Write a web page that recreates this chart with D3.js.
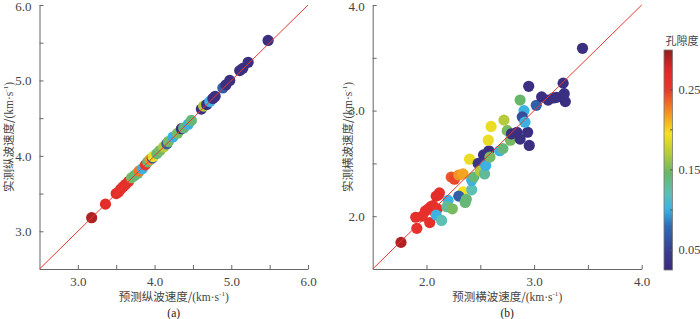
<!DOCTYPE html>
<html><head><meta charset="utf-8">
<script src="https://cdn.jsdelivr.net/npm/d3@7"></script>
<style>
html,body{margin:0;padding:0;background:#fff;}
svg{display:block;font-family:"Liberation Serif","Times New Roman","Noto Sans CJK SC",serif;}
</style></head>
<body><svg id="chart" width="700" height="319"></svg>
<script>
// ---- data ----
// panel (a): predicted Vp, measured Vp, porosity
const vpPredicted = [3.18,3.36,3.50,3.53,3.56,3.59,3.62,3.66,3.70,3.74,3.78,3.80,3.84,3.88,3.91,3.94,3.97,3.98,4.03,4.07,4.12,4.16,4.18,4.24,4.30,4.35,4.38,4.44,4.48,4.61,4.64,4.68,4.72,4.76,4.79,4.89,4.93,4.98,5.11,5.15,5.22,5.48];
const vpMeasured  = [3.18,3.36,3.50,3.52,3.56,3.59,3.62,3.66,3.71,3.74,3.77,3.80,3.83,3.88,3.92,3.95,3.97,3.99,4.03,4.07,4.12,4.16,4.19,4.25,4.30,4.36,4.37,4.42,4.47,4.62,4.66,4.68,4.72,4.76,4.79,4.90,4.94,5.00,5.13,5.16,5.24,5.53];
const vpPorosity  = [0.29,0.265,0.265,0.26,0.26,0.26,0.26,0.26,0.15,0.14,0.14,0.23,0.10,0.25,0.14,0.22,0.07,0.19,0.14,0.15,0.17,0.07,0.15,0.10,0.15,0.03,0.14,0.10,0.14,0.03,0.17,0.03,0.10,0.03,0.03,0.07,0.03,0.03,0.03,0.03,0.03,0.03];
// panel (b): predicted Vs, measured Vs, porosity
const vsPredicted = [1.763,1.91,1.90,1.96,2.03,1.99,2.02,2.04,2.06,2.10,2.08,2.11,2.12,2.09,2.09,2.14,2.20,2.19,2.24,2.23,2.26,2.30,2.34,2.34,2.30,2.36,2.37,2.42,2.42,2.44,2.40,2.48,2.50,2.54,2.55,2.53,2.58,2.59,2.574,2.60,2.68,2.71,2.72,2.75,2.78,2.79,2.84,2.87,2.94,2.955,2.87,2.906,2.89,2.915,2.95,3.02,3.07,3.13,3.18,3.21,3.27,3.28,3.29,3.45];
const vsMeasured  = [1.752,1.885,1.99,2.00,1.94,2.05,2.07,2.09,2.10,2.07,2.04,2.20,2.22,2.19,2.01,1.96,2.15,2.09,2.07,2.37,2.35,2.39,2.40,2.23,2.19,2.13,2.16,2.25,2.34,2.37,2.54,2.50,2.43,2.40,2.48,2.58,2.62,2.56,2.72,2.85,2.62,2.64,2.91,2.81,2.72,2.78,2.795,2.73,2.795,2.67,3.10,3.00,2.94,2.89,3.23,3.05,3.13,3.10,3.12,3.125,3.26,3.16,3.085,3.59];
const vsPorosity  = [0.29,0.26,0.26,0.26,0.26,0.26,0.26,0.26,0.26,0.26,0.26,0.26,0.26,0.265,0.10,0.12,0.10,0.13,0.15,0.24,0.245,0.22,0.215,0.195,0.07,0.14,0.14,0.12,0.10,0.14,0.19,0.04,0.17,0.13,0.10,0.03,0.03,0.15,0.19,0.19,0.10,0.14,0.17,0.15,0.15,0.03,0.03,0.03,0.03,0.03,0.145,0.10,0.06,0.10,0.03,0.07,0.03,0.03,0.03,0.03,0.03,0.03,0.03,0.03];
const vpTicks = [3.0,4.0,5.0,6.0];
const vsTicks = [2.0,3.0,4.0];
const cbTicks = [0.05,0.15,0.25];
// colormap stops
const cmapValues = [0.024,0.05,0.08,0.10,0.12,0.145,0.17,0.195,0.22,0.25,0.275,0.30];
const cmapColors = ["#3b2a7c","#3a3f91","#2f6db3","#3db2e2","#5ebfb4","#68b66a","#b5cb3c","#f7e11e","#f39424","#e8362c","#e0272a","#8c1f1f"];

// ---- drawing ----
const svg = d3.select("#chart");
const color = d3.scaleLinear().domain(cmapValues).range(cmapColors).interpolate(d3.interpolateRgb).clamp(true);
const axisColor = "#666", textColor = "#444";
const CJK = "'Noto Sans CJK SC',sans-serif";

function panel(opts){
  const {x0,x1,y0,y1,dom,major,minorStep,pred,meas,por,xlab,ylab,tag,ylabX} = opts;
  const x = d3.scaleLinear().domain(dom).range([x0,x1]);
  const y = d3.scaleLinear().domain(dom).range([y0,y1]);
  const g = svg.append("g");
  const minor = d3.range(dom[0], dom[1]+1e-9, minorStep).filter(v=>v>dom[0]+1e-9);
  const fmt = v=>major.some(m=>Math.abs(m-v)<1e-6)?d3.format(".1f")(v):"";
  const xa = d3.axisBottom(x).tickValues(minor).tickSizeInner(-4).tickSizeOuter(0).tickFormat(fmt);
  const gx = g.append("g").attr("transform",`translate(0,${y0})`).call(xa);
  const ya = d3.axisLeft(y).tickValues(minor).tickSizeInner(-4).tickSizeOuter(0).tickFormat(fmt);
  const gy = g.append("g").attr("transform",`translate(${x0},0)`).call(ya);
  [gx,gy].forEach(a=>{
    a.select(".domain").attr("stroke",axisColor).attr("stroke-width",1);
    a.selectAll(".tick line").attr("stroke",axisColor);
    a.selectAll(".tick text").attr("fill",textColor).attr("font-size",13).attr("font-family","'Liberation Serif',serif");
  });
  gx.selectAll(".tick text").attr("y",6).attr("dy","0.85em");
  gy.selectAll(".tick text").attr("x",-8);
  gy.selectAll(".tick").filter(v=>Math.abs(v-dom[1])<1e-6).select("text").attr("dy","0.42em");
  // points
  const data = pred.map((p,i)=>({p, m:meas[i], c:por[i]}));
  g.append("g").selectAll("circle").data(data).join("circle")
    .attr("cx",d=>x(d.p)).attr("cy",d=>y(d.m)).attr("r",5.6)
    .attr("fill",d=>color(d.c));
  // 1:1 line
  g.append("line").attr("x1",x(dom[0])).attr("y1",y(dom[0])).attr("x2",x(dom[1])).attr("y2",y(dom[1]))
    .attr("stroke","#e8392e").attr("stroke-width",1);
  // labels
  const cx = (x0+x1)/2, cy=(y0+y1)/2;
  const xl = g.append("text").attr("x",cx).attr("y",301).attr("text-anchor","middle").attr("fill",textColor).attr("font-size",11.5);
  xl.append("tspan").attr("font-family",CJK).text(xlab+"/");
  xl.append("tspan").text("(km·s");
  xl.append("tspan").attr("font-size",7).attr("dy",-5).text("-1");
  xl.append("tspan").attr("dy",5).text(")");
  const yl = g.append("text").attr("transform",`translate(${ylabX},${cy}) rotate(-90)`).attr("text-anchor","middle").attr("fill",textColor).attr("font-size",11.5);
  yl.append("tspan").attr("font-family",CJK).text(ylab+"/");
  yl.append("tspan").text("(km·s");
  yl.append("tspan").attr("font-size",7).attr("dy",-5).text("-1");
  yl.append("tspan").attr("dy",5).text(")");
  g.append("text").attr("x",cx).attr("y",317).attr("text-anchor","middle").attr("fill","#222").attr("font-size",11.5).text(tag);
}

panel({x0:39.5,x1:308,y0:269,y1:5,dom:[2.5,6.0],major:vpTicks,minorStep:0.5,pred:vpPredicted,meas:vpMeasured,por:vpPorosity,
  xlab:"预测纵波速度",ylab:"实测纵波速度",tag:"(a)",ylabX:13});
panel({x0:372.7,x1:641.7,y0:269,y1:5,dom:[1.5,4.0],major:vsTicks,minorStep:0.5,pred:vsPredicted,meas:vsMeasured,por:vsPorosity,
  xlab:"预测横波速度",ylab:"实测横波速度",tag:"(b)",ylabX:352});

// colorbar
const cbX=664, cbW=8.5, cbTop=50, cbBot=270;
const cyS = d3.scaleLinear().domain([0.0245,0.299]).range([cbBot,cbTop]);
const defs = svg.append("defs");
const grad = defs.append("linearGradient").attr("id","cbgrad").attr("x1",0).attr("y1",1).attr("x2",0).attr("y2",0);
d3.range(0,1.0001,0.02).forEach(t=>{
  const v = cyS.domain()[0] + t*(cyS.domain()[1]-cyS.domain()[0]);
  grad.append("stop").attr("offset",t).attr("stop-color",color(v));
});
svg.append("rect").attr("x",cbX).attr("y",cbTop).attr("width",cbW).attr("height",cbBot-cbTop)
  .attr("fill","url(#cbgrad)").attr("stroke","#777").attr("stroke-width",0.8);
const cbAxis = d3.axisRight(cyS).tickValues([0.05,0.10,0.15,0.20,0.25]).tickSizeInner(-2.5).tickSizeOuter(0)
  .tickFormat(v=>cbTicks.some(m=>Math.abs(m-v)<1e-6)?d3.format(".2f")(v):"");
const gcb = svg.append("g").attr("transform",`translate(${cbX+cbW},0)`).call(cbAxis);
gcb.select(".domain").remove();
gcb.selectAll(".tick line").attr("stroke","#555");
gcb.selectAll(".tick text").attr("x",6).attr("fill",textColor).attr("font-size",12.5).attr("font-family","'Liberation Serif',serif");
svg.append("text").attr("x",682).attr("y",45).attr("text-anchor","middle").attr("fill",textColor)
  .attr("font-size",11).attr("font-family",CJK).text("孔隙度");
</script></body></html>
